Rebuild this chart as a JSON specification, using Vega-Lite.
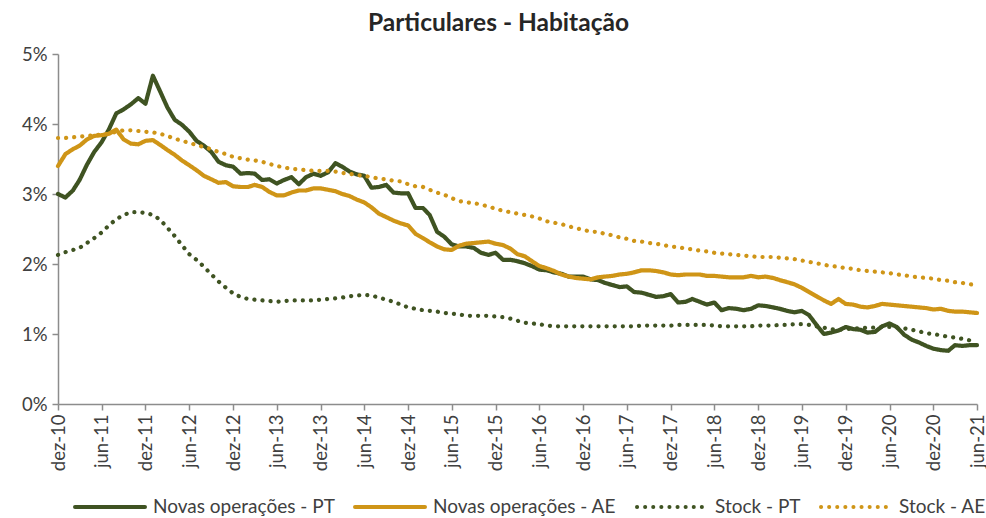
{
  "$schema": "https://vega.github.io/schema/vega-lite/v6.json",
  "width": 919,
  "height": 350,
  "autosize": {"type": "none"},
  "padding": {"left": 58, "top": 54, "right": 9, "bottom": 114},
  "background": "white",
  "title": {"text": "Particulares - Habitação", "font": "Lato", "fontSize": 24.5, "fontWeight": "bold", "color": "#262626", "anchor": "middle", "dx": -19, "offset": 9},
  "config": {"view": {"stroke": null}},
  "data": {"values": [
    {"d":"2010-12-01","npt":3.00,"nae":3.40,"spt":2.13,"sae":3.80},
    {"d":"2011-01-01","npt":2.95,"nae":3.57,"spt":2.17,"sae":3.80},
    {"d":"2011-02-01","npt":3.05,"nae":3.64,"spt":2.20,"sae":3.81},
    {"d":"2011-03-01","npt":3.20,"nae":3.69,"spt":2.23,"sae":3.82},
    {"d":"2011-04-01","npt":3.42,"nae":3.78,"spt":2.30,"sae":3.83},
    {"d":"2011-05-01","npt":3.60,"nae":3.83,"spt":2.37,"sae":3.84},
    {"d":"2011-06-01","npt":3.74,"nae":3.84,"spt":2.45,"sae":3.85},
    {"d":"2011-07-01","npt":3.92,"nae":3.86,"spt":2.55,"sae":3.86},
    {"d":"2011-08-01","npt":4.15,"nae":3.92,"spt":2.64,"sae":3.89},
    {"d":"2011-09-01","npt":4.21,"nae":3.78,"spt":2.70,"sae":3.91},
    {"d":"2011-10-01","npt":4.28,"nae":3.72,"spt":2.74,"sae":3.91},
    {"d":"2011-11-01","npt":4.37,"nae":3.71,"spt":2.74,"sae":3.90},
    {"d":"2011-12-01","npt":4.29,"nae":3.76,"spt":2.73,"sae":3.89},
    {"d":"2012-01-01","npt":4.69,"nae":3.77,"spt":2.70,"sae":3.88},
    {"d":"2012-02-01","npt":4.46,"nae":3.70,"spt":2.63,"sae":3.86},
    {"d":"2012-03-01","npt":4.24,"nae":3.63,"spt":2.52,"sae":3.83},
    {"d":"2012-04-01","npt":4.06,"nae":3.56,"spt":2.40,"sae":3.79},
    {"d":"2012-05-01","npt":3.99,"nae":3.48,"spt":2.27,"sae":3.76},
    {"d":"2012-06-01","npt":3.89,"nae":3.41,"spt":2.14,"sae":3.73},
    {"d":"2012-07-01","npt":3.76,"nae":3.34,"spt":2.06,"sae":3.70},
    {"d":"2012-08-01","npt":3.69,"nae":3.26,"spt":1.96,"sae":3.67},
    {"d":"2012-09-01","npt":3.60,"nae":3.21,"spt":1.85,"sae":3.64},
    {"d":"2012-10-01","npt":3.46,"nae":3.16,"spt":1.75,"sae":3.60},
    {"d":"2012-11-01","npt":3.41,"nae":3.17,"spt":1.66,"sae":3.57},
    {"d":"2012-12-01","npt":3.39,"nae":3.11,"spt":1.58,"sae":3.53},
    {"d":"2013-01-01","npt":3.29,"nae":3.10,"spt":1.53,"sae":3.51},
    {"d":"2013-02-01","npt":3.30,"nae":3.10,"spt":1.50,"sae":3.49},
    {"d":"2013-03-01","npt":3.29,"nae":3.13,"spt":1.49,"sae":3.48},
    {"d":"2013-04-01","npt":3.20,"nae":3.10,"spt":1.48,"sae":3.46},
    {"d":"2013-05-01","npt":3.21,"nae":3.03,"spt":1.47,"sae":3.43},
    {"d":"2013-06-01","npt":3.15,"nae":2.98,"spt":1.46,"sae":3.40},
    {"d":"2013-07-01","npt":3.20,"nae":2.98,"spt":1.47,"sae":3.38},
    {"d":"2013-08-01","npt":3.24,"nae":3.02,"spt":1.48,"sae":3.36},
    {"d":"2013-09-01","npt":3.14,"nae":3.05,"spt":1.48,"sae":3.35},
    {"d":"2013-10-01","npt":3.24,"nae":3.05,"spt":1.48,"sae":3.34},
    {"d":"2013-11-01","npt":3.29,"nae":3.08,"spt":1.48,"sae":3.33},
    {"d":"2013-12-01","npt":3.26,"nae":3.08,"spt":1.49,"sae":3.33},
    {"d":"2014-01-01","npt":3.31,"nae":3.06,"spt":1.50,"sae":3.33},
    {"d":"2014-02-01","npt":3.44,"nae":3.04,"spt":1.51,"sae":3.32},
    {"d":"2014-03-01","npt":3.39,"nae":3.00,"spt":1.52,"sae":3.30},
    {"d":"2014-04-01","npt":3.32,"nae":2.97,"spt":1.54,"sae":3.29},
    {"d":"2014-05-01","npt":3.28,"nae":2.92,"spt":1.55,"sae":3.27},
    {"d":"2014-06-01","npt":3.26,"nae":2.88,"spt":1.56,"sae":3.26},
    {"d":"2014-07-01","npt":3.09,"nae":2.81,"spt":1.55,"sae":3.24},
    {"d":"2014-08-01","npt":3.10,"nae":2.72,"spt":1.52,"sae":3.22},
    {"d":"2014-09-01","npt":3.13,"nae":2.67,"spt":1.49,"sae":3.21},
    {"d":"2014-10-01","npt":3.02,"nae":2.62,"spt":1.46,"sae":3.19},
    {"d":"2014-11-01","npt":3.01,"nae":2.58,"spt":1.42,"sae":3.18},
    {"d":"2014-12-01","npt":3.01,"nae":2.55,"spt":1.38,"sae":3.14},
    {"d":"2015-01-01","npt":2.80,"nae":2.43,"spt":1.36,"sae":3.11},
    {"d":"2015-02-01","npt":2.80,"nae":2.37,"spt":1.34,"sae":3.10},
    {"d":"2015-03-01","npt":2.70,"nae":2.31,"spt":1.33,"sae":3.06},
    {"d":"2015-04-01","npt":2.46,"nae":2.25,"spt":1.32,"sae":3.02},
    {"d":"2015-05-01","npt":2.39,"nae":2.21,"spt":1.30,"sae":2.99},
    {"d":"2015-06-01","npt":2.28,"nae":2.20,"spt":1.29,"sae":2.94},
    {"d":"2015-07-01","npt":2.25,"nae":2.26,"spt":1.28,"sae":2.90},
    {"d":"2015-08-01","npt":2.25,"nae":2.29,"spt":1.26,"sae":2.88},
    {"d":"2015-09-01","npt":2.23,"nae":2.30,"spt":1.26,"sae":2.87},
    {"d":"2015-10-01","npt":2.16,"nae":2.31,"spt":1.26,"sae":2.85},
    {"d":"2015-11-01","npt":2.13,"nae":2.32,"spt":1.26,"sae":2.82},
    {"d":"2015-12-01","npt":2.16,"nae":2.29,"spt":1.25,"sae":2.79},
    {"d":"2016-01-01","npt":2.06,"nae":2.27,"spt":1.24,"sae":2.76},
    {"d":"2016-02-01","npt":2.06,"nae":2.22,"spt":1.22,"sae":2.74},
    {"d":"2016-03-01","npt":2.04,"nae":2.14,"spt":1.19,"sae":2.72},
    {"d":"2016-04-01","npt":2.01,"nae":2.11,"spt":1.16,"sae":2.70},
    {"d":"2016-05-01","npt":1.97,"nae":2.04,"spt":1.15,"sae":2.68},
    {"d":"2016-06-01","npt":1.92,"nae":1.97,"spt":1.14,"sae":2.65},
    {"d":"2016-07-01","npt":1.91,"nae":1.94,"spt":1.12,"sae":2.61},
    {"d":"2016-08-01","npt":1.88,"nae":1.90,"spt":1.11,"sae":2.59},
    {"d":"2016-09-01","npt":1.86,"nae":1.85,"spt":1.11,"sae":2.57},
    {"d":"2016-10-01","npt":1.82,"nae":1.82,"spt":1.11,"sae":2.54},
    {"d":"2016-11-01","npt":1.82,"nae":1.80,"spt":1.11,"sae":2.51},
    {"d":"2016-12-01","npt":1.82,"nae":1.79,"spt":1.11,"sae":2.49},
    {"d":"2017-01-01","npt":1.78,"nae":1.78,"spt":1.11,"sae":2.46},
    {"d":"2017-02-01","npt":1.77,"nae":1.81,"spt":1.11,"sae":2.46},
    {"d":"2017-03-01","npt":1.73,"nae":1.82,"spt":1.11,"sae":2.43},
    {"d":"2017-04-01","npt":1.70,"nae":1.83,"spt":1.11,"sae":2.41},
    {"d":"2017-05-01","npt":1.67,"nae":1.85,"spt":1.11,"sae":2.38},
    {"d":"2017-06-01","npt":1.68,"nae":1.86,"spt":1.11,"sae":2.36},
    {"d":"2017-07-01","npt":1.60,"nae":1.88,"spt":1.11,"sae":2.33},
    {"d":"2017-08-01","npt":1.59,"nae":1.91,"spt":1.12,"sae":2.32},
    {"d":"2017-09-01","npt":1.56,"nae":1.91,"spt":1.12,"sae":2.30},
    {"d":"2017-10-01","npt":1.53,"nae":1.90,"spt":1.12,"sae":2.29},
    {"d":"2017-11-01","npt":1.54,"nae":1.88,"spt":1.12,"sae":2.27},
    {"d":"2017-12-01","npt":1.57,"nae":1.85,"spt":1.12,"sae":2.25},
    {"d":"2018-01-01","npt":1.45,"nae":1.84,"spt":1.13,"sae":2.24},
    {"d":"2018-02-01","npt":1.46,"nae":1.85,"spt":1.13,"sae":2.22},
    {"d":"2018-03-01","npt":1.50,"nae":1.85,"spt":1.13,"sae":2.21},
    {"d":"2018-04-01","npt":1.46,"nae":1.85,"spt":1.13,"sae":2.19},
    {"d":"2018-05-01","npt":1.42,"nae":1.83,"spt":1.13,"sae":2.18},
    {"d":"2018-06-01","npt":1.45,"nae":1.83,"spt":1.12,"sae":2.16},
    {"d":"2018-07-01","npt":1.34,"nae":1.82,"spt":1.11,"sae":2.15},
    {"d":"2018-08-01","npt":1.37,"nae":1.81,"spt":1.11,"sae":2.14},
    {"d":"2018-09-01","npt":1.36,"nae":1.81,"spt":1.11,"sae":2.13},
    {"d":"2018-10-01","npt":1.34,"nae":1.81,"spt":1.11,"sae":2.12},
    {"d":"2018-11-01","npt":1.36,"nae":1.83,"spt":1.11,"sae":2.11},
    {"d":"2018-12-01","npt":1.41,"nae":1.81,"spt":1.12,"sae":2.10},
    {"d":"2019-01-01","npt":1.40,"nae":1.82,"spt":1.12,"sae":2.10},
    {"d":"2019-02-01","npt":1.38,"nae":1.80,"spt":1.12,"sae":2.10},
    {"d":"2019-03-01","npt":1.36,"nae":1.77,"spt":1.13,"sae":2.09},
    {"d":"2019-04-01","npt":1.33,"nae":1.74,"spt":1.13,"sae":2.08},
    {"d":"2019-05-01","npt":1.31,"nae":1.71,"spt":1.14,"sae":2.07},
    {"d":"2019-06-01","npt":1.33,"nae":1.66,"spt":1.14,"sae":2.05},
    {"d":"2019-07-01","npt":1.27,"nae":1.60,"spt":1.13,"sae":2.03},
    {"d":"2019-08-01","npt":1.13,"nae":1.54,"spt":1.11,"sae":2.01},
    {"d":"2019-09-01","npt":1.00,"nae":1.48,"spt":1.09,"sae":1.99},
    {"d":"2019-10-01","npt":1.02,"nae":1.43,"spt":1.07,"sae":1.97},
    {"d":"2019-11-01","npt":1.05,"nae":1.50,"spt":1.06,"sae":1.96},
    {"d":"2019-12-01","npt":1.10,"nae":1.43,"spt":1.07,"sae":1.94},
    {"d":"2020-01-01","npt":1.07,"nae":1.42,"spt":1.08,"sae":1.93},
    {"d":"2020-02-01","npt":1.06,"nae":1.39,"spt":1.08,"sae":1.91},
    {"d":"2020-03-01","npt":1.02,"nae":1.38,"spt":1.09,"sae":1.90},
    {"d":"2020-04-01","npt":1.03,"nae":1.40,"spt":1.09,"sae":1.89},
    {"d":"2020-05-01","npt":1.11,"nae":1.43,"spt":1.10,"sae":1.88},
    {"d":"2020-06-01","npt":1.15,"nae":1.42,"spt":1.10,"sae":1.87},
    {"d":"2020-07-01","npt":1.10,"nae":1.41,"spt":1.09,"sae":1.85},
    {"d":"2020-08-01","npt":0.99,"nae":1.40,"spt":1.08,"sae":1.84},
    {"d":"2020-09-01","npt":0.92,"nae":1.39,"spt":1.06,"sae":1.82},
    {"d":"2020-10-01","npt":0.88,"nae":1.38,"spt":1.04,"sae":1.81},
    {"d":"2020-11-01","npt":0.83,"nae":1.37,"spt":1.01,"sae":1.80},
    {"d":"2020-12-01","npt":0.79,"nae":1.35,"spt":1.00,"sae":1.79},
    {"d":"2021-01-01","npt":0.77,"nae":1.36,"spt":0.98,"sae":1.77},
    {"d":"2021-02-01","npt":0.76,"nae":1.33,"spt":0.96,"sae":1.76},
    {"d":"2021-03-01","npt":0.84,"nae":1.32,"spt":0.95,"sae":1.74},
    {"d":"2021-04-01","npt":0.83,"nae":1.32,"spt":0.93,"sae":1.73},
    {"d":"2021-05-01","npt":0.84,"nae":1.31,"spt":0.91,"sae":1.71},
    {"d":"2021-06-01","npt":0.84,"nae":1.30,"spt":0.90,"sae":1.70}
  ]},
  "transform": [{"fold": ["npt", "nae", "spt", "sae"], "as": ["serie", "valor"]}],
  "mark": {"type": "line", "strokeCap": "round", "strokeJoin": "round", "strokeWidth": 4.2, "clip": false},
  "encoding": {
    "x": {
      "field": "d", "type": "temporal",
      "scale": {"type": "utc", "domain": [{"year": 2010, "month": 12, "date": 1, "utc": true}, {"year": 2021, "month": 6, "date": 1, "utc": true}]},
      "axis": {
        "title": null, "grid": false,
        "values": [
          {"year": 2010, "month": 12, "date": 1, "utc": true}, {"year": 2011, "month": 6, "date": 1, "utc": true},
          {"year": 2011, "month": 12, "date": 1, "utc": true}, {"year": 2012, "month": 6, "date": 1, "utc": true},
          {"year": 2012, "month": 12, "date": 1, "utc": true}, {"year": 2013, "month": 6, "date": 1, "utc": true},
          {"year": 2013, "month": 12, "date": 1, "utc": true}, {"year": 2014, "month": 6, "date": 1, "utc": true},
          {"year": 2014, "month": 12, "date": 1, "utc": true}, {"year": 2015, "month": 6, "date": 1, "utc": true},
          {"year": 2015, "month": 12, "date": 1, "utc": true}, {"year": 2016, "month": 6, "date": 1, "utc": true},
          {"year": 2016, "month": 12, "date": 1, "utc": true}, {"year": 2017, "month": 6, "date": 1, "utc": true},
          {"year": 2017, "month": 12, "date": 1, "utc": true}, {"year": 2018, "month": 6, "date": 1, "utc": true},
          {"year": 2018, "month": 12, "date": 1, "utc": true}, {"year": 2019, "month": 6, "date": 1, "utc": true},
          {"year": 2019, "month": 12, "date": 1, "utc": true}, {"year": 2020, "month": 6, "date": 1, "utc": true},
          {"year": 2020, "month": 12, "date": 1, "utc": true}, {"year": 2021, "month": 6, "date": 1, "utc": true}
        ],
        "labelExpr": "(utcFormat(datum.value, '%m') == '12' ? 'dez' : 'jun') + '-' + utcFormat(datum.value, '%y')",
        "labelAngle": 270, "labelFont": "Lato", "labelFontSize": 18.5, "labelColor": "#404040", "labelPadding": 4,
        "labelOverlap": false, "labelFlush": false,
        "domainColor": "#8C8C8C", "domainWidth": 1.5, "tickColor": "#8C8C8C", "tickWidth": 1.5, "tickSize": 6
      }
    },
    "y": {
      "field": "valor", "type": "quantitative",
      "scale": {"domain": [0, 5], "nice": false},
      "axis": {
        "title": null, "grid": false, "values": [0, 1, 2, 3, 4, 5],
        "labelExpr": "datum.value + '%'",
        "labelFont": "Lato", "labelFontSize": 18.5, "labelColor": "#404040", "labelPadding": 5,
        "domainColor": "#8C8C8C", "domainWidth": 1.5, "tickColor": "#8C8C8C", "tickWidth": 1.5, "tickSize": 6
      }
    },
    "color": {
      "field": "serie", "type": "nominal",
      "scale": {"domain": ["npt", "nae", "spt", "sae"], "range": ["#3F5322", "#CF9517", "#3F5322", "#CF9517"]},
      "legend": {
        "title": null, "orient": "none", "direction": "horizontal", "legendX": 15, "legendY": 416,
        "symbolType": "stroke", "symbolSize": 4900, "symbolStrokeWidth": 4,
        "labelFont": "Lato", "labelFontSize": 19, "labelColor": "#404040", "labelOffset": 6, "columnPadding": 12,
        "labelLimit": 400,
        "labelExpr": "datum.label == 'npt' ? 'Novas operações - PT' : datum.label == 'nae' ? 'Novas operações - AE' : datum.label == 'spt' ? 'Stock - PT' : 'Stock - AE'",
        "encode": {"symbols": {"update": {"strokeCap": {"value": "round"}}}}
      }
    },
    "strokeDash": {
      "field": "serie", "type": "nominal",
      "scale": {"domain": ["npt", "nae", "spt", "sae"], "range": [[1, 0], [1, 0], [0.1, 8], [0.1, 8]]},
      "legend": {
        "title": null, "orient": "none", "direction": "horizontal", "legendX": 15, "legendY": 416,
        "symbolType": "stroke", "symbolSize": 4900, "symbolStrokeWidth": 4,
        "labelFont": "Lato", "labelFontSize": 19, "labelColor": "#404040", "labelOffset": 6, "columnPadding": 12,
        "labelLimit": 400,
        "labelExpr": "datum.label == 'npt' ? 'Novas operações - PT' : datum.label == 'nae' ? 'Novas operações - AE' : datum.label == 'spt' ? 'Stock - PT' : 'Stock - AE'",
        "encode": {"symbols": {"update": {"strokeCap": {"value": "round"}}}}
      }
    }
  }
}
